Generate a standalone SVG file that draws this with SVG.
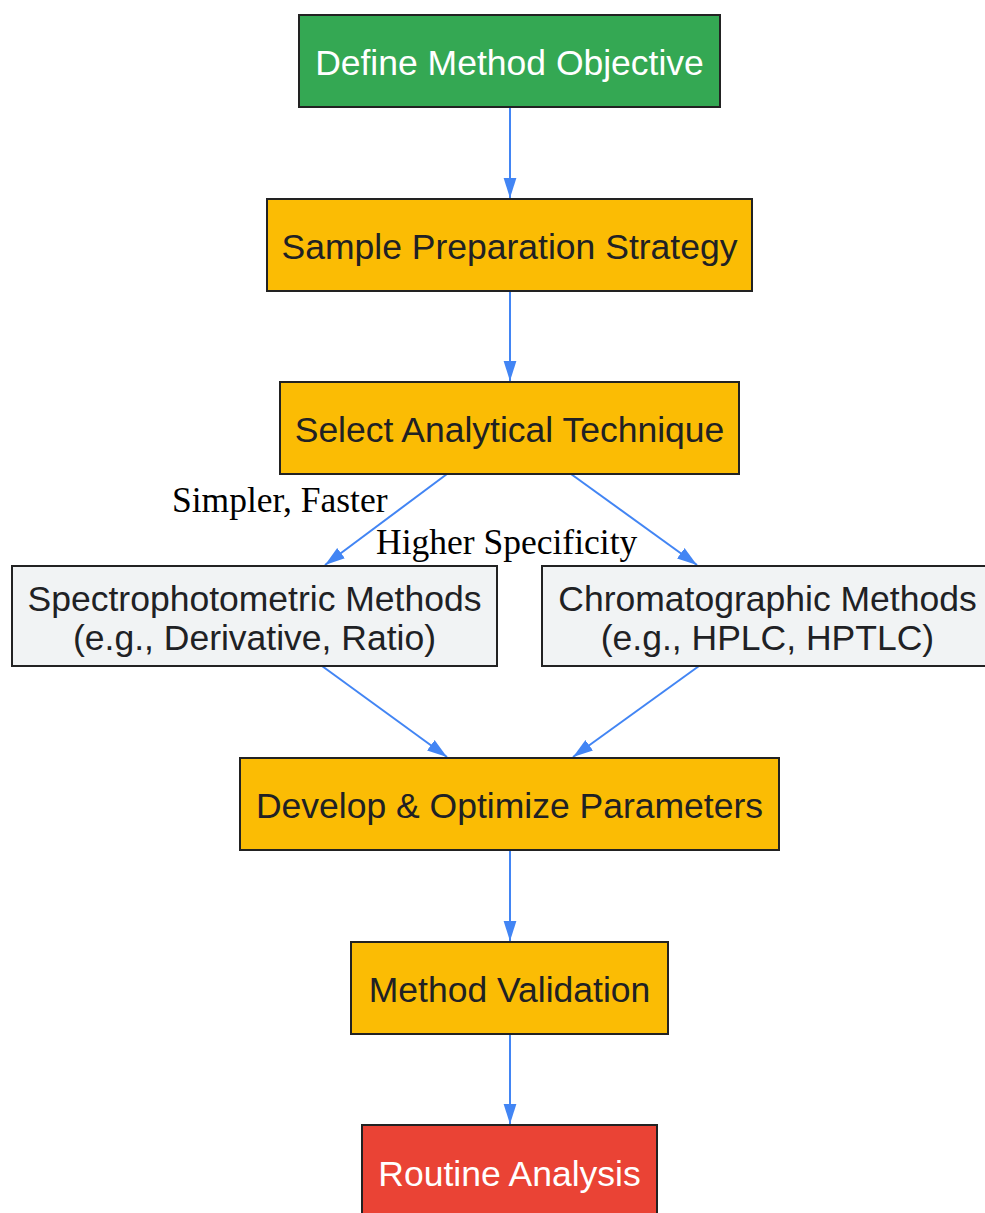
<svg xmlns="http://www.w3.org/2000/svg" width="985" height="1213" viewBox="0 0 985 1213">
<style>
.box{stroke:#222222;stroke-width:2}
.t{font-family:"Liberation Sans",Arial,sans-serif;font-size:35.5px;text-anchor:middle;dominant-baseline:central}
.dark{fill:#202124}
.light{fill:#ffffff}
.e{stroke:#4285F4;stroke-width:2;fill:none;marker-end:url(#ahb)}
.lbl{font-family:"Liberation Serif","Times New Roman",serif;font-size:35.5px;fill:#000}
</style>
<defs>
<marker id="ahb" viewBox="0 0 10 10" refX="10" refY="5" markerWidth="20" markerHeight="20" markerUnits="userSpaceOnUse" orient="auto">
<path d="M0,1.8 L10,5 L0,8.2 z" fill="#4285F4"/>
</marker>
</defs>
<rect width="985" height="1213" fill="#ffffff"/>
<g id="connectors">
<line class="e" x1="510" y1="107" x2="510" y2="198"/>
<line class="e" x1="510" y1="291" x2="510" y2="381"/>
<line class="e" x1="447" y1="474" x2="325" y2="565"/>
<line class="e" x1="571" y1="474" x2="697" y2="565"/>
<line class="e" x1="322" y1="666" x2="447" y2="757"/>
<line class="e" x1="699" y1="666" x2="573" y2="757"/>
<line class="e" x1="510" y1="850" x2="510" y2="941"/>
<line class="e" x1="510" y1="1034" x2="510" y2="1124"/>
<text class="lbl" x="172" y="512">Simpler, Faster</text>
<text class="lbl" x="376" y="554">Higher Specificity</text>
</g>
<g id="n1">
<rect class="box" x="299" y="15" width="421" height="92" fill="#34A853"/>
<text class="t light" x="509.5" y="63">Define Method Objective</text>
</g>
<g id="n2">
<rect class="box" x="267" y="199" width="485" height="92" fill="#FBBC04"/>
<text class="t dark" x="509.5" y="247">Sample Preparation Strategy</text>
</g>
<g id="n3">
<rect class="box" x="280" y="382" width="459" height="92" fill="#FBBC04"/>
<text class="t dark" x="509.5" y="430">Select Analytical Technique</text>
</g>
<g id="n4">
<rect class="box" x="12" y="566" width="485" height="100" fill="#F1F3F4"/>
<text class="t dark" x="254.5" y="599">Spectrophotometric Methods</text>
<text class="t dark" x="254.5" y="638">(e.g., Derivative, Ratio)</text>
</g>
<g id="n5">
<rect class="box" x="542" y="566" width="450" height="100" fill="#F1F3F4"/>
<text class="t dark" x="767.5" y="599">Chromatographic Methods</text>
<text class="t dark" x="767.5" y="638">(e.g., HPLC, HPTLC)</text>
</g>
<g id="n6">
<rect class="box" x="240" y="758" width="539" height="92" fill="#FBBC04"/>
<text class="t dark" x="509.5" y="806">Develop &amp; Optimize Parameters</text>
</g>
<g id="n7">
<rect class="box" x="351" y="942" width="317" height="92" fill="#FBBC04"/>
<text class="t dark" x="509.5" y="990">Method Validation</text>
</g>
<g id="n8">
<rect class="box" x="362" y="1125" width="295" height="100" fill="#EA4335"/>
<text class="t light" x="509.5" y="1174">Routine Analysis</text>
</g>
</svg>
